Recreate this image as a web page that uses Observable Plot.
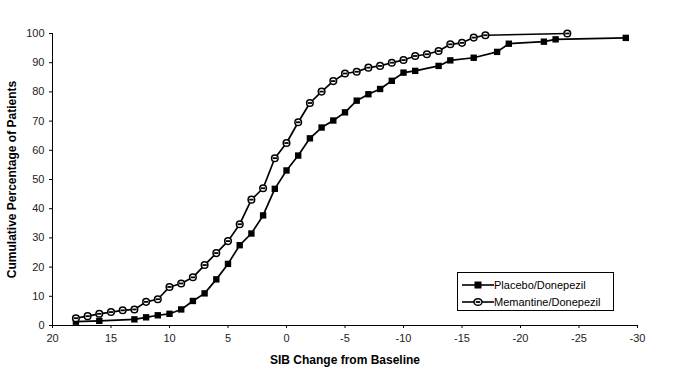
<!DOCTYPE html>
<html>
<head>
<meta charset="utf-8">
<script src="https://cdn.jsdelivr.net/npm/d3@7"></script>
<script src="https://cdn.jsdelivr.net/npm/@observablehq/plot@0.6"></script>
<style>
  html, body { margin: 0; padding: 0; background: #fff; }
  #wrap { position: relative; width: 685px; height: 373px; font-family: "Liberation Sans", Arial, sans-serif; }
  #wrap svg g[aria-label="y-axis label"] text,
  #wrap svg g[aria-label="x-axis label"] text { font-weight: bold; font-size: 12px; }
  #wrap svg g[aria-label="y-axis tick label"] text,
  #wrap svg g[aria-label="x-axis tick label"] text { fill: #222; }
  #legend { position: absolute; left: 457px; top: 272px; width: 157px; height: 39px; border: 1px solid #000; background: #fff; font-size: 11px; box-sizing: border-box; }
  #legend .row { position: absolute; left: 4px; display: flex; align-items: center; height: 14px; }
  #legend svg { display: block; }
</style>
</head>
<body>
<div id="wrap"></div>
<script>
// ---- data ----
const placeboX = [18,16,13,12,11,10,9,8,7,6,5,4,3,2,1,0,-1,-2,-3,-4,-5,-6,-7,-8,-9,-10,-11,-13,-14,-16,-18,-19,-22,-23,-29];
const placeboY = [1.3,1.6,2.1,2.8,3.5,4.0,5.5,8.4,11,15.8,21.1,27.5,31.5,37.7,46.8,53.1,58.2,64.1,67.8,70.2,73,77,79.2,81,83.8,86.6,87.2,88.9,90.8,91.7,93.7,96.5,97.2,98,98.5];
const memantineX = [18,17,16,15,14,13,12,11,10,9,8,7,6,5,4,3,2,1,0,-1,-2,-3,-4,-5,-6,-7,-8,-9,-10,-11,-12,-13,-14,-15,-16,-17,-24];
const memantineY = [2.5,3.2,4.0,4.6,5.2,5.5,8.1,9.0,13.2,14.4,16.5,20.7,24.8,28.9,34.7,43.1,47.0,57.3,62.5,69.6,76.2,80.1,83.7,86.3,86.9,88.3,88.9,90.0,90.9,92.3,92.9,94.0,96.3,96.8,98.6,99.4,100];
const seriesNames = ["Placebo/Donepezil", "Memantine/Donepezil"];
const xDomain = [20, -30];
const yDomain = [0, 100];
const xTicks = [20,15,10,5,0,-5,-10,-15,-20,-25,-30];
const yTicks = [0,10,20,30,40,50,60,70,80,90,100];
const xTitle = "SIB Change from Baseline";
const yTitle = "Cumulative Percentage of Patients";

const placebo = placeboX.map((x, i) => ({x, y: placeboY[i]}));
const memantine = memantineX.map((x, i) => ({x, y: memantineY[i]}));

// small horizontal bar inside the circle markers
const barSymbol = { draw(ctx, size) { const w = 2.2, h = 0.9; ctx.rect(-w, -h, 2*w, 2*h); } };

const chart = Plot.plot({
  width: 685,
  height: 373,
  marginLeft: 52,
  marginRight: 48,
  marginTop: 33,
  marginBottom: 48,
  style: { fontFamily: "'Liberation Sans', Arial, sans-serif", fontSize: "11px", color: "#000", background: "#fff" },
  x: { domain: xDomain, ticks: xTicks },
  y: { domain: yDomain, ticks: yTicks },
  marks: [
    Plot.axisX({ ticks: xTicks, tickSize: 3, tickPadding: 6, tickFormat: d => String(d).replace("−", "-"), label: xTitle, labelAnchor: "center", labelArrow: "none", labelOffset: 38, stroke: "#000" }),
    Plot.axisY({ ticks: yTicks, tickSize: 3, tickPadding: 5, label: yTitle, labelAnchor: "center", labelArrow: "none", labelOffset: 45, stroke: "#000" }),
    Plot.ruleY([yDomain[0]], { stroke: "#000", strokeWidth: 1 }),
    Plot.ruleX([xDomain[0]], { y1: yDomain[0], y2: yDomain[1], stroke: "#000", strokeWidth: 1 }),
    Plot.line(memantine, { x: "x", y: "y", stroke: "#000", strokeWidth: 1.7 }),
    Plot.line(placebo, { x: "x", y: "y", stroke: "#000", strokeWidth: 1.7 }),
    Plot.dot(placebo, { x: "x", y: "y", symbol: "square", r: 3.6, fill: "#000", stroke: "none" }),
    Plot.dot(memantine, { x: "x", y: "y", symbol: "circle", r: 3.3, fill: "#fff", stroke: "#000", strokeWidth: 1.5 }),
    Plot.dot(memantine, { x: "x", y: "y", symbol: barSymbol, r: 1, fill: "#000", stroke: "none" })
  ]
});

const wrap = document.getElementById("wrap");
wrap.appendChild(chart);

// legend
const legend = document.createElement("div");
legend.id = "legend";
legend.innerHTML = `
  <div class="row" style="top:5px">
    <svg width="32" height="14"><line x1="0" y1="7" x2="32" y2="7" stroke="#000" stroke-width="1.6"/><rect x="12.5" y="3.5" width="7" height="7" fill="#000"/></svg>
    <span>${seriesNames[0]}</span>
  </div>
  <div class="row" style="top:22px">
    <svg width="32" height="14"><line x1="0" y1="7" x2="32" y2="7" stroke="#000" stroke-width="1.6"/><ellipse cx="16" cy="7" rx="4" ry="3.3" fill="#fff" stroke="#000" stroke-width="1.5"/><rect x="13.8" y="6.1" width="4.4" height="1.8" fill="#000"/></svg>
    <span>${seriesNames[1]}</span>
  </div>`;
wrap.appendChild(legend);
</script>
</body>
</html>
